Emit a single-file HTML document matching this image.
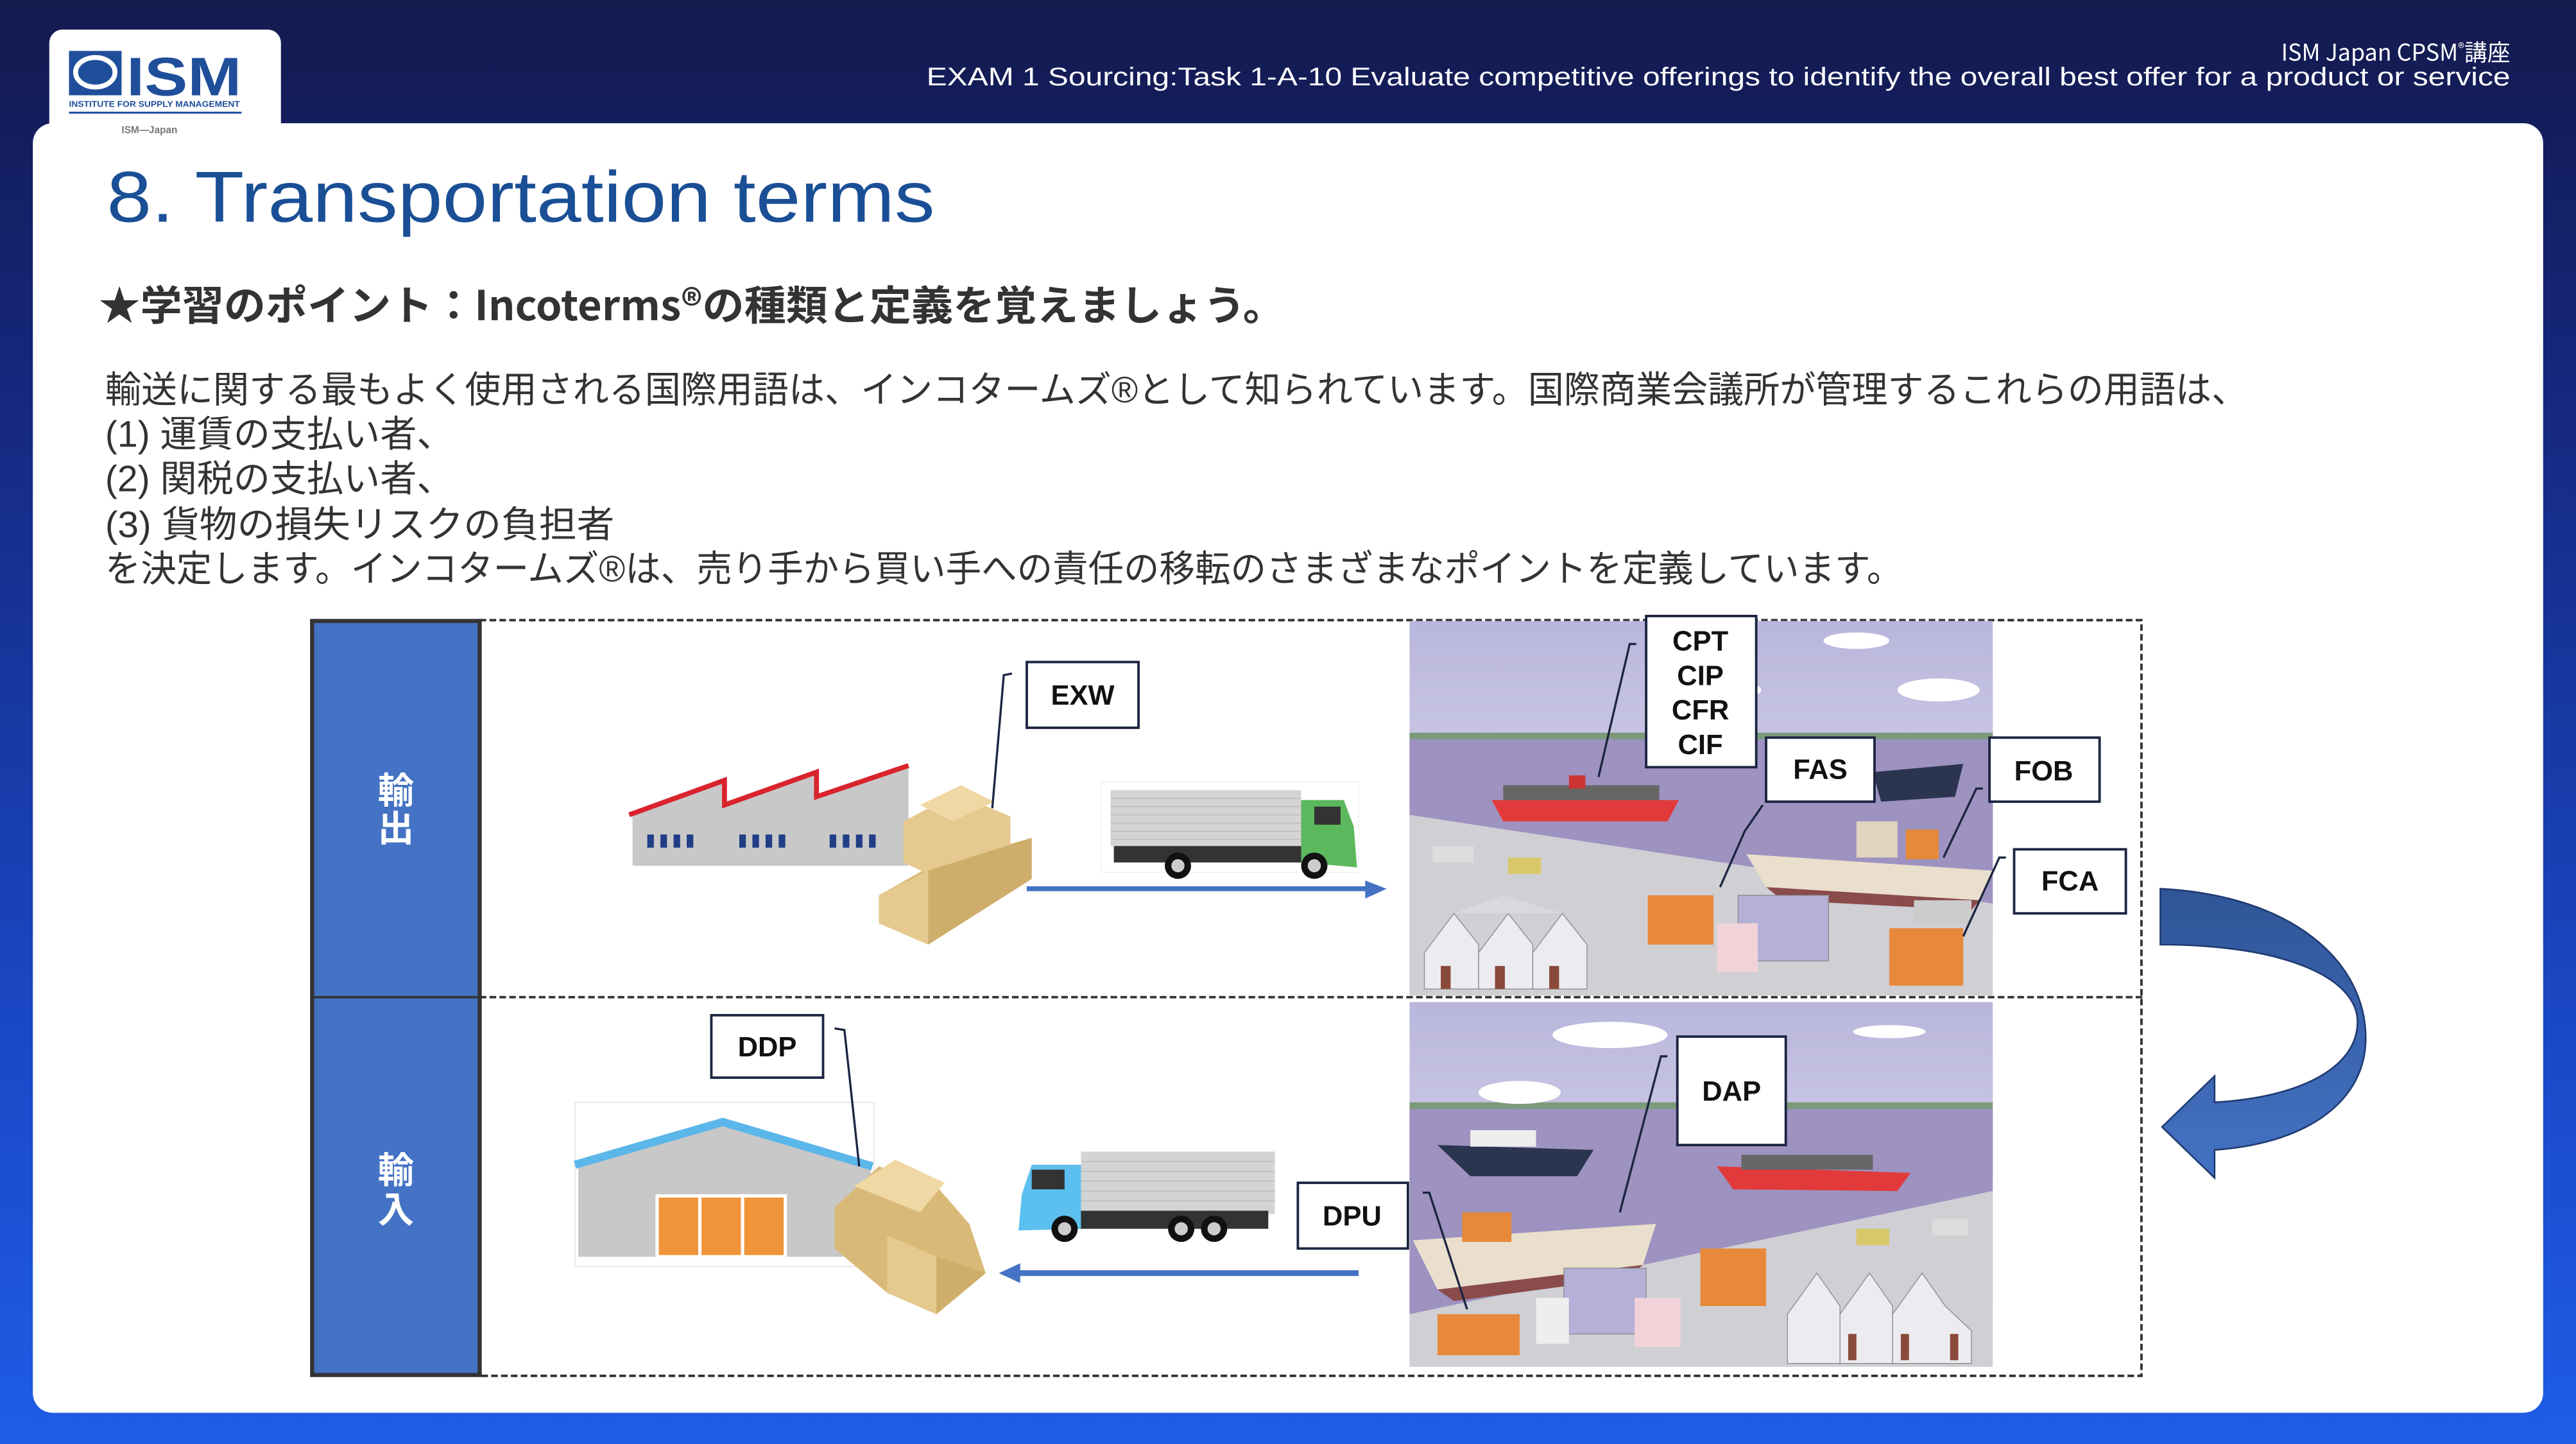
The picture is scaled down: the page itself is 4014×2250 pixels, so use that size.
<!DOCTYPE html>
<html><head><meta charset="utf-8">
<style>
html,body{margin:0;padding:0;width:4014px;height:2250px;overflow:hidden;background:#1a2a80}
svg{display:block}
text{font-family:"Liberation Sans","Noto Sans CJK JP",sans-serif}
.lb{font-family:"Liberation Sans","Noto Sans CJK JP",sans-serif;font-weight:bold;font-size:17px;fill:#111}
.jp{font-family:"Noto Sans CJK JP","Liberation Sans",sans-serif}
</style></head>
<body>
<svg width="4014" height="2250" viewBox="0 0 1568 879" preserveAspectRatio="none" xmlns="http://www.w3.org/2000/svg">
<defs>
<linearGradient id="bg" x1="0" y1="0" x2="0" y2="1">
<stop offset="0" stop-color="#141a4e"/><stop offset="0.25" stop-color="#15267a"/><stop offset="0.7" stop-color="#1a47c4"/><stop offset="1" stop-color="#1f5ce6"/>
</linearGradient>
<linearGradient id="sky" x1="0" y1="0" x2="0" y2="1">
<stop offset="0" stop-color="#b9b6dc"/><stop offset="1" stop-color="#e6e4f2"/>
</linearGradient>
<linearGradient id="arr" x1="0" y1="0" x2="0" y2="1">
<stop offset="0" stop-color="#2f5597"/><stop offset="1" stop-color="#4472c4"/>
</linearGradient>
</defs>
<rect width="1568" height="879" fill="url(#bg)"/>
<!-- panel -->
<rect x="20" y="75" width="1528" height="785" rx="12" fill="#fff"/>
<rect x="30" y="18" width="141" height="70" rx="8" fill="#fff"/>
<!-- logo -->
<rect x="42" y="31" width="32" height="27" fill="#1f4e9a"/>
<ellipse cx="58" cy="44" rx="12" ry="9" fill="none" stroke="#fff" stroke-width="3"/>
<text x="77" y="58" font-size="33" font-weight="bold" fill="#1f4e9a" textLength="70" lengthAdjust="spacingAndGlyphs">ISM</text>
<text x="42" y="65" font-size="5" font-weight="bold" fill="#1f4e9a" textLength="104" lengthAdjust="spacingAndGlyphs">INSTITUTE FOR SUPPLY MANAGEMENT</text>
<rect x="42" y="68" width="105" height="1.2" fill="#1f4e9a"/>
<text x="74" y="81" font-size="6" fill="#777" font-weight="bold">ISM—Japan</text>
<!-- header text -->
<text x="1528" y="37" font-size="14" fill="#fff" text-anchor="end" class="jp">ISM Japan CPSM<tspan font-size="8" dy="-5">®</tspan><tspan dy="5">講座</tspan></text>
<text x="1528" y="52" font-size="15.5" fill="#fff" text-anchor="end" textLength="964" lengthAdjust="spacingAndGlyphs">EXAM 1 Sourcing:Task 1-A-10 Evaluate competitive offerings to identify the overall best offer for a product or service</text>
<!-- title -->
<text x="65" y="135" font-size="44" fill="#1a4f96" textLength="504" lengthAdjust="spacingAndGlyphs">8. Transportation terms</text>
<text x="60" y="195" font-size="25" fill="#333" font-weight="bold" class="jp" textLength="722" lengthAdjust="spacingAndGlyphs">★学習のポイント：Incoterms®の種類と定義を覚えましょう。</text>
<g class="jp" font-size="22.5" fill="#333">
<text x="64" y="245" textLength="1304" lengthAdjust="spacingAndGlyphs">輸送に関する最もよく使用される国際用語は、インコタームズ®として知られています。国際商業会議所が管理するこれらの用語は、</text>
<text x="64" y="272" textLength="212" lengthAdjust="spacingAndGlyphs">(1) 運賃の支払い者、</text>
<text x="64" y="299" textLength="212" lengthAdjust="spacingAndGlyphs">(2) 関税の支払い者、</text>
<text x="64" y="327" textLength="310" lengthAdjust="spacingAndGlyphs">(3) 貨物の損失リスクの負担者</text>
<text x="64" y="354" textLength="1094" lengthAdjust="spacingAndGlyphs">を決定します。インコタームズ®は、売り手から買い手への責任の移転のさまざまなポイントを定義しています。</text>
</g>
<!-- diagram frame -->
<rect x="292" y="377.5" width="1011.5" height="460" fill="none" stroke="#333" stroke-width="1.5" stroke-dasharray="4 2"/>
<line x1="292" y1="607" x2="1304" y2="607" stroke="#333" stroke-width="1.5" stroke-dasharray="4 2"/>
<rect x="190" y="378" width="102" height="459" fill="#4472c4" stroke="#333" stroke-width="2.5"/>
<line x1="190" y1="607" x2="292" y2="607" stroke="#333" stroke-width="1.5"/>
<text x="241" y="489" font-size="22" fill="#fff" text-anchor="middle" font-weight="bold" class="jp">輸</text>
<text x="241" y="512" font-size="22" fill="#fff" text-anchor="middle" font-weight="bold" class="jp">出</text>
<text x="241" y="720" font-size="22" fill="#fff" text-anchor="middle" font-weight="bold" class="jp">輸</text>
<text x="241" y="744" font-size="22" fill="#fff" text-anchor="middle" font-weight="bold" class="jp">入</text>

<!-- factory -->
<polygon points="385,527 385,496 441,476 441,490 497,471 497,485 553,467 553,527" fill="#c8c8c8"/>
<polyline points="383,496 441,475 441,490 497,470 497,485 553,466" fill="none" stroke="#d9232d" stroke-width="3"/>
<g fill="#1f3e86">
<rect x="394" y="508" width="4" height="8"/><rect x="402" y="508" width="4" height="8"/><rect x="410" y="508" width="4" height="8"/><rect x="418" y="508" width="4" height="8"/>
<rect x="450" y="508" width="4" height="8"/><rect x="458" y="508" width="4" height="8"/><rect x="466" y="508" width="4" height="8"/><rect x="474" y="508" width="4" height="8"/>
<rect x="505" y="508" width="4" height="8"/><rect x="513" y="508" width="4" height="8"/><rect x="521" y="508" width="4" height="8"/><rect x="529" y="508" width="4" height="8"/>
</g>
<!-- boxes export -->
<g>
<polygon points="535,545 565,528 628,510 628,535 565,575 535,562" fill="#d9b978"/>
<polygon points="550,500 582,483 615,497 615,520 582,540 550,525" fill="#e6c98e"/>
<polygon points="560,490 585,478 605,488 580,500" fill="#f0d8a4"/>
<polygon points="535,545 565,530 565,575 535,562" fill="#e6c98e"/>
<polygon points="565,530 628,510 628,535 565,575" fill="#cfae6c"/>
</g>
<!-- truck export -->
<rect x="670" y="476" width="157" height="55" fill="#fff" stroke="#eee" stroke-width="0.5"/>
<rect x="676" y="481" width="116" height="34" fill="#d4d4d4"/>
<g stroke="#bbb" stroke-width="0.6"><line x1="676" y1="486" x2="792" y2="486"/><line x1="676" y1="491" x2="792" y2="491"/><line x1="676" y1="496" x2="792" y2="496"/><line x1="676" y1="501" x2="792" y2="501"/><line x1="676" y1="506" x2="792" y2="506"/><line x1="676" y1="511" x2="792" y2="511"/></g>
<rect x="678" y="515" width="140" height="10" fill="#333"/>
<polygon points="792,487 818,487 824,503 826,528 792,525" fill="#5cb85c"/>
<rect x="800" y="491" width="16" height="11" fill="#333"/>
<circle cx="717" cy="527" r="8" fill="#111"/><circle cx="717" cy="527" r="4" fill="#ccc"/>
<circle cx="800" cy="527" r="8" fill="#111"/><circle cx="800" cy="527" r="4" fill="#ccc"/>
<line x1="625" y1="541" x2="832" y2="541" stroke="#4472c4" stroke-width="3"/>
<polygon points="831,536 844,541 831,547" fill="#4472c4"/>

<!-- warehouse import -->
<rect x="350" y="671" width="182" height="100" fill="#fff" stroke="#ddd" stroke-width="0.5"/>
<polygon points="352,707 440,682 530,709 530,765 352,765" fill="#c8c8c8"/>
<polyline points="350,709 440,683 531,710" fill="none" stroke="#5bb6ea" stroke-width="5"/>
<rect x="399" y="727" width="80" height="38" fill="#fff"/>
<rect x="401" y="729" width="24" height="35" fill="#f0943a"/><rect x="427" y="729" width="24" height="35" fill="#f0943a"/><rect x="453" y="729" width="24" height="35" fill="#f0943a"/>
<g>
<polygon points="508,735 535,710 570,722 590,745 600,775 570,800 540,787 508,760" fill="#d9b978"/>
<polygon points="520,722 545,706 575,720 560,738" fill="#f0d8a4"/>
<polygon points="540,787 570,800 570,765 540,752" fill="#e6c98e"/>
<polygon points="570,765 600,775 570,800" fill="#cfae6c"/>
</g>
<!-- truck import -->
<rect x="658" y="701" width="118" height="38" fill="#d4d4d4"/>
<g stroke="#bbb" stroke-width="0.6"><line x1="658" y1="707" x2="776" y2="707"/><line x1="658" y1="713" x2="776" y2="713"/><line x1="658" y1="719" x2="776" y2="719"/><line x1="658" y1="725" x2="776" y2="725"/><line x1="658" y1="731" x2="776" y2="731"/></g>
<rect x="640" y="737" width="132" height="11" fill="#333"/>
<polygon points="628,709 658,709 658,748 620,749 622,727" fill="#5bc0ef"/>
<rect x="628" y="712" width="20" height="12" fill="#333"/>
<circle cx="648" cy="748" r="8" fill="#111"/><circle cx="648" cy="748" r="4" fill="#ccc"/>
<circle cx="719" cy="748" r="8" fill="#111"/><circle cx="719" cy="748" r="4" fill="#ccc"/>
<circle cx="739" cy="748" r="8" fill="#111"/><circle cx="739" cy="748" r="4" fill="#ccc"/>
<line x1="620" y1="775" x2="827" y2="775" stroke="#4472c4" stroke-width="3.5"/>
<polygon points="621,769 608,775 621,781" fill="#4472c4"/>

<!-- port top -->
<g>
<rect x="858" y="378" width="355" height="228" fill="url(#sky)"/>
<rect x="858" y="446" width="355" height="5" fill="#7b9a7a"/>
<rect x="858" y="450" width="355" height="60" fill="#9d92c0"/>
<polygon points="858,496 1213,550 1213,606 858,606" fill="#cfcfd4"/>
<polygon points="858,450 1213,450 1213,550 858,496" fill="#9d92c0"/>
<ellipse cx="1050" cy="420" rx="22" ry="6" fill="#fff"/><ellipse cx="1180" cy="420" rx="25" ry="7" fill="#fff"/><ellipse cx="1130" cy="390" rx="20" ry="5" fill="#fff"/>
<polygon points="908,487 1022,487 1015,500 915,500" fill="#e23a3a"/>
<rect x="915" y="478" width="95" height="9" fill="#666"/>
<rect x="955" y="472" width="10" height="8" fill="#c33"/>
<polygon points="1063,520 1213,530 1205,548 1075,540" fill="#eadfcc"/>
<polygon points="1075,540 1205,548 1200,554 1085,548" fill="#8a4b4b"/>
<rect x="1130" y="500" width="25" height="22" fill="#e0d4c0"/>
<rect x="1160" y="505" width="20" height="18" fill="#e58a3a"/>
<polygon points="1140,470 1195,465 1190,485 1145,488" fill="#2c3550"/>
<polygon points="867,580 885,556 900,575 900,602 867,602" fill="#ececf0" stroke="#888" stroke-width="0.5"/>
<polygon points="900,580 918,556 933,575 933,602 900,602" fill="#ececf0" stroke="#888" stroke-width="0.5"/>
<polygon points="933,580 951,556 966,575 966,602 933,602" fill="#ececf0" stroke="#888" stroke-width="0.5"/>
<polygon points="885,556 915,545 951,556 918,556" fill="#d8d8de"/>
<rect x="877" y="588" width="6" height="14" fill="#8a4a3a"/><rect x="910" y="588" width="6" height="14" fill="#8a4a3a"/><rect x="943" y="588" width="6" height="14" fill="#8a4a3a"/>
<rect x="1058" y="545" width="55" height="40" fill="#b4b0d8" stroke="#888" stroke-width="0.5"/>
<rect x="1045" y="562" width="25" height="30" fill="#f0d2d8"/>
<rect x="1003" y="545" width="40" height="30" fill="#e8883a"/>
<rect x="1150" y="565" width="45" height="35" fill="#e8883a"/>
<rect x="1165" y="548" width="35" height="14" fill="#ccc"/>
<rect x="872" y="515" width="25" height="10" fill="#ddd"/><rect x="918" y="522" width="20" height="10" fill="#d8c86a"/>
</g>
<!-- port bottom -->
<g>
<rect x="858" y="610" width="355" height="222" fill="url(#sky)"/>
<rect x="858" y="671" width="355" height="5" fill="#7b9a7a"/>
<polygon points="858,675 1213,675 1213,725 858,800" fill="#9d92c0"/>
<polygon points="858,800 1213,725 1213,832 858,832" fill="#cfcfd4"/>
<ellipse cx="980" cy="630" rx="35" ry="8" fill="#fff"/><ellipse cx="925" cy="665" rx="25" ry="7" fill="#fff"/><ellipse cx="1150" cy="628" rx="22" ry="4" fill="#fff"/>
<polygon points="875,697 970,700 960,716 895,716" fill="#2c3550"/><rect x="895" y="688" width="40" height="10" fill="#eee"/>
<polygon points="1045,710 1163,714 1155,725 1055,724" fill="#e23a3a"/><rect x="1060" y="703" width="80" height="9" fill="#666"/>
<polygon points="860,755 1008,745 1000,770 875,785" fill="#eadfcc"/>
<polygon points="875,785 1000,770 990,778 885,792" fill="#8a4b4b"/>
<rect x="890" y="738" width="30" height="18" fill="#e58a3a"/>
<rect x="952" y="772" width="50" height="40" fill="#b4b0d8" stroke="#888" stroke-width="0.5"/>
<rect x="935" y="790" width="20" height="28" fill="#eee"/>
<rect x="995" y="790" width="28" height="30" fill="#f0d2d8"/>
<rect x="1035" y="760" width="40" height="35" fill="#e8883a"/>
<rect x="875" y="800" width="50" height="25" fill="#e8883a"/>
<polygon points="1088,800 1106,775 1120,795 1120,830 1088,830" fill="#ececf0" stroke="#888" stroke-width="0.5"/>
<polygon points="1120,800 1138,775 1152,795 1152,830 1120,830" fill="#ececf0" stroke="#888" stroke-width="0.5"/>
<polygon points="1152,800 1170,775 1184,795 1200,810 1200,830 1152,830" fill="#ececf0" stroke="#888" stroke-width="0.5"/>
<rect x="1125" y="812" width="5" height="16" fill="#8a4a3a"/><rect x="1157" y="812" width="5" height="16" fill="#8a4a3a"/><rect x="1187" y="812" width="5" height="16" fill="#8a4a3a"/>
<rect x="1176" y="742" width="22" height="10" fill="#ddd"/><rect x="1130" y="748" width="20" height="10" fill="#d8c86a"/>
</g>

<!-- leader lines -->
<g fill="none" stroke="#1c2540" stroke-width="1.3">
<polyline points="616,410 611,411 604,492"/>
<polyline points="996,392 992,392 973,473"/>
<polyline points="1073,490 1062,506 1047,540"/>
<polyline points="1207,480 1203,480 1183,522"/>
<polyline points="1221,522 1217,522 1195,570"/>
<polyline points="1015,643 1011,643 986,738"/>
<polyline points="866,726 870,726 893,797"/>
<polyline points="508,626 514,627 523,710"/>
</g>
<!-- label boxes -->
<g fill="#fff" stroke="#1c2540" stroke-width="1.5">
<rect x="625" y="403" width="68" height="40"/>
<rect x="1002" y="375" width="67" height="92"/>
<rect x="1075" y="449" width="66" height="39"/>
<rect x="1211" y="449" width="67" height="39"/>
<rect x="1226" y="517" width="68" height="39"/>
<rect x="1021" y="631" width="66" height="66"/>
<rect x="790" y="720" width="67" height="40"/>
<rect x="433" y="618" width="68" height="38"/>
</g>
<g class="lb" text-anchor="middle">
<text x="659" y="429" class="lb">EXW</text>
<text x="1035" y="396" class="lb">CPT</text>
<text x="1035" y="417" class="lb">CIP</text>
<text x="1035" y="438" class="lb">CFR</text>
<text x="1035" y="459" class="lb">CIF</text>
<text x="1108" y="474" class="lb">FAS</text>
<text x="1244" y="475" class="lb">FOB</text>
<text x="1260" y="542" class="lb">FCA</text>
<text x="1054" y="670" class="lb">DAP</text>
<text x="823" y="746" class="lb">DPU</text>
<text x="467" y="643" class="lb">DDP</text>
</g>
<!-- curved arrow -->
<path d="M1315,541 C1395,545 1440,585 1440,632 C1440,670 1405,696 1348,700 L1348,717 L1316,686 L1348,655 L1348,671 C1400,668 1435,650 1435,622 C1435,595 1390,575 1315,575 Z" fill="url(#arr)" stroke="#1f3a70" stroke-width="1"/>
</svg>
</body></html>
